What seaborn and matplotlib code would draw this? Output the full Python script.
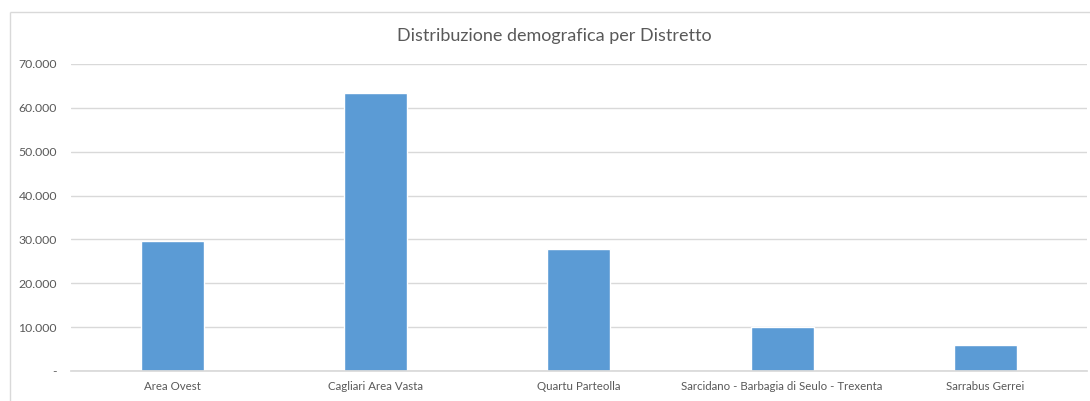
import matplotlib
matplotlib.use("Agg")
import matplotlib.pyplot as plt
import seaborn as sns
import pandas as pd
from matplotlib.lines import Line2D
from matplotlib.ticker import FuncFormatter

# dati
distretti = ["Area Ovest", "Cagliari Area Vasta", "Quartu Parteolla",
             "Sarcidano - Barbagia di Seulo - Trexenta", "Sarrabus Gerrei"]
popolazione = [29700, 63500, 27800, 10000, 5900]
y_ticks = [0, 10000, 20000, 30000, 40000, 50000, 60000, 70000]

df = pd.DataFrame({"distretto": distretti, "popolazione": popolazione})

sns.set_theme(style="white")
plt.rcParams['font.family'] = ['Lato', 'DejaVu Sans']

fig = plt.figure(figsize=(10.9, 4.01), dpi=100)
ax = fig.add_axes([0.0649, 0.0748, 0.9323, 0.7656])

sns.barplot(data=df, x="distretto", y="popolazione", color="#5B9BD5",
            saturation=1, width=0.31, ax=ax)

ax.set_ylim(0, 70000)
ax.set_xlim(-0.5, len(distretti) - 0.5)
ax.set_yticks(y_ticks)
ax.yaxis.set_major_formatter(FuncFormatter(
    lambda v, p: "-" if v == 0 else f"{int(v):,}".replace(",", ".")))
ax.grid(axis="y", color="#D9D9D9", linewidth=1)
ax.set_axisbelow(True)
for s in ["top", "right", "left"]:
    ax.spines[s].set_visible(False)
ax.spines["bottom"].set_color("#D9D9D9")
ax.tick_params(axis="y", length=0, pad=10, labelsize=8.8, labelcolor="#595959")
ax.tick_params(axis="x", length=0, pad=7, labelsize=8.3, labelcolor="#595959")
ax.set_xlabel("")
ax.set_ylabel("")

fig.text(0.509, 0.91, "Distribuzione demografica per Distretto",
         ha="center", va="center", fontsize=13, color="#595959")

# cornice dell'area grafico (solo bordo sinistro e superiore visibili)
x0 = 9.5 / 1090
y0 = 1 - 12 / 401
fig.add_artist(Line2D([x0, x0], [0.0, y0], transform=fig.transFigure,
                      color="#D9D9D9", linewidth=1, solid_capstyle="butt"))
fig.add_artist(Line2D([x0, 1.0], [y0, y0], transform=fig.transFigure,
                      color="#D9D9D9", linewidth=1, solid_capstyle="butt"))

fig.savefig("out.png", dpi=100)
